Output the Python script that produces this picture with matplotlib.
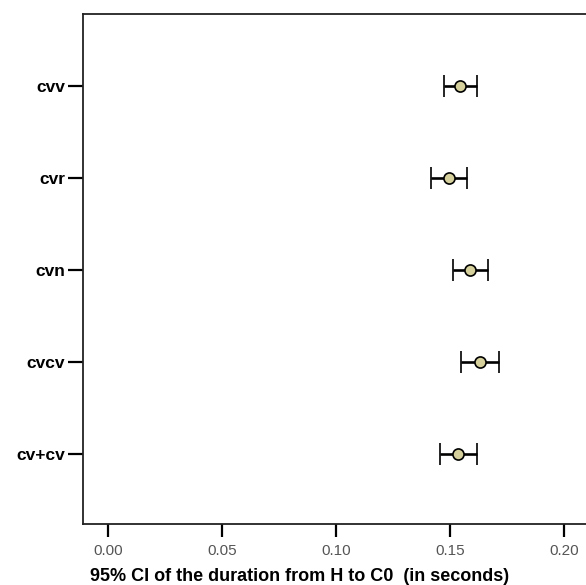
import matplotlib
matplotlib.use("Agg")
import matplotlib.pyplot as plt

categories = ["cvv", "cvr", "cvn", "cvcv", "cv+cv"]
means = [0.1543, 0.1494, 0.1586, 0.1630, 0.1537]
lower = [0.1472, 0.1415, 0.1511, 0.1547, 0.1458]
upper = [0.1618, 0.1576, 0.1667, 0.1714, 0.1618]
xticks = [0.00, 0.05, 0.10, 0.15, 0.20]
xticklabels = ["0.00", "0.05", "0.10", "0.15", "0.20"]

plt.rcParams['font.family'] = ['Liberation Sans', 'DejaVu Sans']

fig = plt.figure(figsize=(5.86, 5.85), dpi=100)
ax = fig.add_axes([0.1411, 0.1038, 0.899, 0.872])

ypos = list(range(len(categories)))
xerr = [[m - l for m, l in zip(means, lower)], [u - m for u, m in zip(upper, means)]]
ax.errorbar(means, ypos, xerr=xerr, fmt='o', color='black', ecolor='black',
            elinewidth=1.9, capsize=8, capthick=1.9,
            markersize=8, markerfacecolor='#D6D19C', markeredgecolor='black',
            markeredgewidth=1.2, zorder=3)

ax.set_xlim(-0.0112, 0.22)
ax.set_ylim(4.77, -0.78)
ax.set_yticks(ypos)
ax.set_yticklabels(categories, fontsize=12.5, fontweight='bold')
ax.set_xticks(xticks)
ax.set_xticklabels(xticklabels, fontsize=11, color='#555555')
ax.tick_params(axis='y', length=10.5, width=1.6, pad=2)
ax.tick_params(axis='x', length=9, width=1.6, pad=5.5)
for s in ax.spines.values():
    s.set_linewidth(1.3)
    s.set_color('#222222')
ax.set_xlabel("95% CI of the duration from H to C0  (in seconds)",
              fontsize=13, fontweight='bold')
ax.xaxis.set_label_coords(0.4115, -0.0857)

fig.savefig("out.png", dpi=100)
